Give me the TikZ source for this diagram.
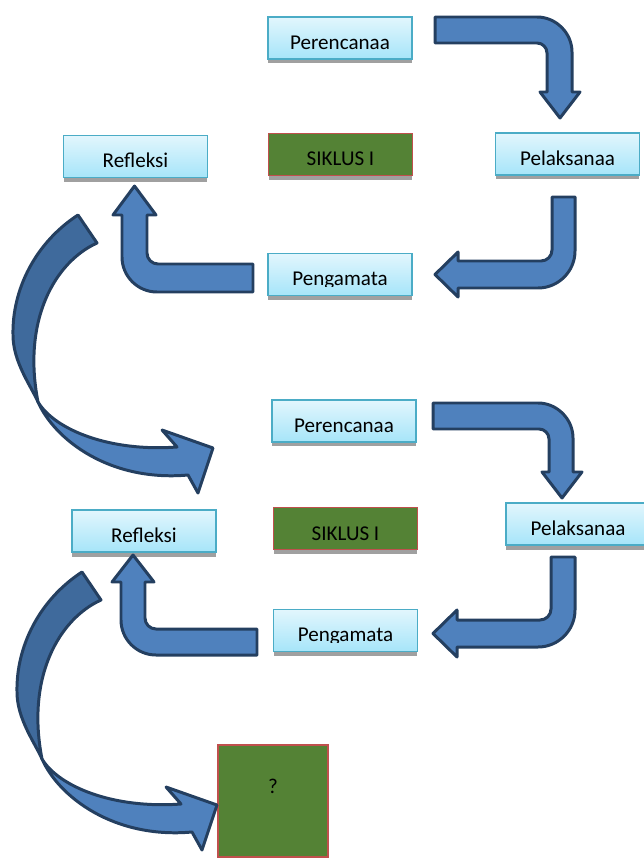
\documentclass[tikz,border=0pt]{standalone}
\usepackage{fontspec}
\setmainfont{Carlito}
\usetikzlibrary{shadows}

\definecolor{boxtop}{HTML}{E2F6FD}
\definecolor{boxbot}{HTML}{A6E5F9}
\definecolor{boxline}{HTML}{4BACC6}
\definecolor{siklusfill}{HTML}{548235}
\definecolor{siklusline}{HTML}{C0504D}
\definecolor{arrowfill}{HTML}{4F81BD}
\definecolor{arrowback}{HTML}{3F6A9C}
\definecolor{arrowline}{HTML}{243F60}
\definecolor{shadegray}{HTML}{A0A0A0}

\tikzset{
  stage/.style={draw=boxline, line width=0.8pt, top color=boxtop, bottom color=boxbot,
    minimum width=2.88cm, minimum height=0.84cm, text height=0.46cm, text depth=0pt, inner sep=0pt,
    drop shadow={shadow xshift=0cm, shadow yshift=-0.09cm, fill=shadegray, opacity=1}},
  siklusbox/.style={stage, draw=siklusline, fill=siklusfill, top color=siklusfill, bottom color=siklusfill},
  blockarrow/.style={fill=arrowfill, draw=arrowline, line width=1.7pt, line join=round},
}

\begin{document}
\begin{tikzpicture}[x=0.02cm, y=-0.02cm, every node/.style={font=\fontsize{12}{14}\selectfont}]
        \useasboundingbox (0,0) rectangle (643,858);

        % first cycle
        \node[stage] (plan1) at (340,38) {Perencanaa};
        \node[stage] (refl1) at (135.5,156.5) {Refleksi};
        \node[siklusbox] (siklus1) at (340.5,154.5) {SIKLUS I};
        \node[stage] (act1) at (567.5,154) {Pelaksanaa};
        \node[stage] (obs1) at (340,274.5) {};
        \begin{scope}
          \clip (268,253) rectangle (412,286);
          \node[anchor=base] (obs1text) at (340,285) {Pengamata};
        \end{scope}

        \draw[blockarrow] (435,17) -- (537,17) .. controls (556,17) and (572,33) .. (572,52) -- (572,92)
          -- (580,92) -- (560,118) -- (540,92) -- (547,92) -- (547,53)
          .. controls (547,47.5) and (542.5,43) .. (537,43) -- (435,43) -- cycle;
        \draw[blockarrow] (552,197) -- (575,197) -- (575,251) .. controls (575,271.4) and (558.4,288) .. (538,288)
          -- (458,288) -- (458,297) -- (435,274.5) -- (458,252) -- (458,261) -- (541,261)
          .. controls (547.1,261) and (552,256.1) .. (552,250) -- cycle;
        \draw[blockarrow] (253,264) -- (158,264) .. controls (151.9,264) and (147,259.1) .. (147,253)
          -- (147,215) -- (156,215) -- (134.5,186) -- (113,215) -- (122,215) -- (122,257)
          .. controls (122,276.3) and (137.7,292) .. (157,292) -- (253,292) -- cycle;

        % second cycle
        \node[stage] (plan2) at (344,421) {Perencanaa};
        \node[stage] (refl2) at (144,531) {Refleksi};
        \node[siklusbox] (siklus2) at (345.5,528.5) {SIKLUS I};
        \node[stage] (act2) at (578,524) {Pelaksanaa};
        \node[stage] (obs2) at (345.5,630.5) {};
        \begin{scope}
          \clip (273,609) rectangle (418,642);
          \node[anchor=base] (obs2text) at (345.5,641) {Pengamata};
        \end{scope}

        \draw[blockarrow] (433,403) -- (538,403) .. controls (557,403) and (573,419) .. (573,438) -- (573,472)
          -- (582,472) -- (562,498) -- (542,472) -- (549,472) -- (549,439)
          .. controls (549,433.5) and (544.5,429) .. (539,429) -- (433,429) -- cycle;
        \draw[blockarrow] (551,557) -- (575,557) -- (575,610) .. controls (575,630.4) and (558.4,647) .. (538,647)
          -- (457,647) -- (457,657) -- (433,633.5) -- (457,610) -- (457,620) -- (540,620)
          .. controls (546.1,620) and (551,615.1) .. (551,609) -- cycle;
        \draw[blockarrow] (257,629) -- (156,629) .. controls (149.9,629) and (145,624.1) .. (145,618)
          -- (145,582) -- (154,582) -- (133,555) -- (112,582) -- (121,582) -- (121,620)
          .. controls (121,639.3) and (136.7,655) .. (156,655) -- (257,655) -- cycle;

        \node[siklusbox, minimum width=2.2cm, minimum height=2.24cm, text height=0.2cm, text depth=0.52cm]
          (next) at (273,801) {?};

        % curved arrows between the cycles
        \foreach \dx/\dy in {0/0, 4/357} {
          \begin{scope}[shift={(\dx,\dy)}]
            \draw[blockarrow, fill=arrowback] (78,215) .. controls (35,243) and (12,290) .. (13,335)
              .. controls (13,362) and (31,386) .. (38,402)
              .. controls (22,320) and (55,262) .. (97,243) -- cycle;
            \draw[blockarrow] (38,402) .. controls (55,440) and (110,482) .. (188,475)
              -- (198,493) -- (213,448) -- (162,430) -- (177,447)
              .. controls (110,452) and (55,430) .. (38,402) -- cycle;
          \end{scope}
        }
\end{tikzpicture}
\end{document}
